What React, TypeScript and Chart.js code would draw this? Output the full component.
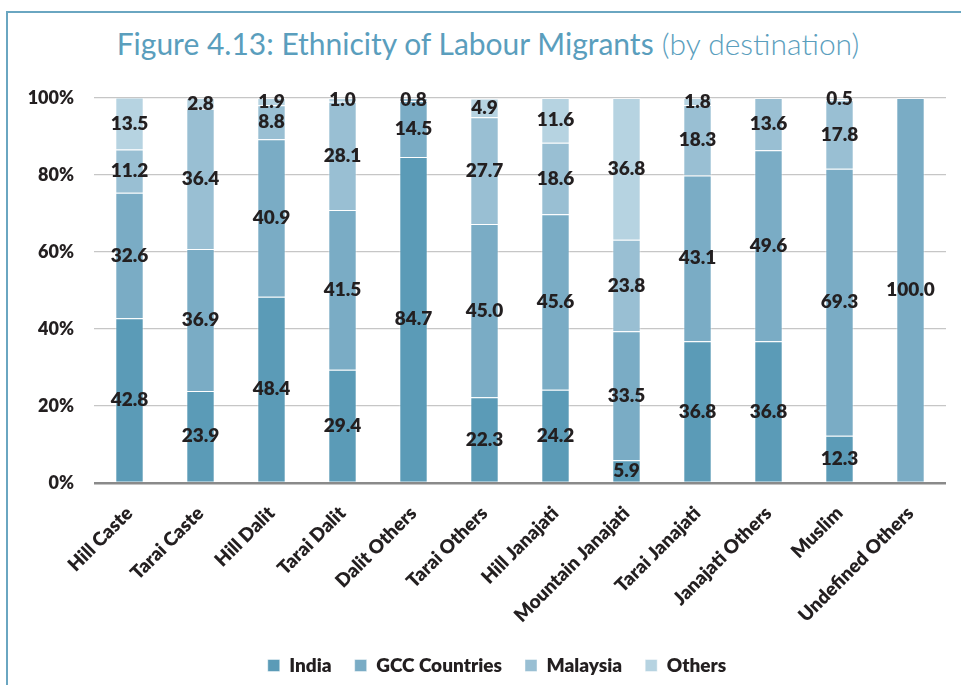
import React, { useEffect, useRef } from "react";
import { Chart, registerables } from "chart.js";

Chart.register(...registerables);

const categories = [
  "Hill Caste",
  "Tarai Caste",
  "Hill Dalit",
  "Tarai Dalit",
  "Dalit Others",
  "Tarai Others",
  "Hill Janajati",
  "Mountain Janajati",
  "Tarai Janajati",
  "Janajati Others",
  "Muslim",
  "Undefined Others",
];
const india = [42.8, 23.9, 48.4, 29.4, 84.7, 22.3, 24.2, 5.9, 36.8, 36.8, 12.3, 0];
const gcc = [32.6, 36.9, 40.9, 41.5, 14.5, 45.0, 45.6, 33.5, 43.1, 49.6, 69.3, 100.0];
const malaysia = [11.2, 36.4, 8.8, 28.1, 0.8, 27.7, 18.6, 23.8, 18.3, 13.6, 17.8, 0];
const others = [13.5, 2.8, 1.9, 1.0, 0, 4.9, 11.6, 36.8, 1.8, 0, 0.5, 0];
const seriesNames = ["India", "GCC Countries", "Malaysia", "Others"];
const seriesColors = ["#5b9bb7", "#7aacc5", "#99bfd3", "#b6d3e1"];

const FONT = "Lato, 'Open Sans', sans-serif";

const segLabels = {
  id: "segLabels",
  afterDatasetsDraw(chart: any) {
    const ctx = chart.ctx;
    ctx.save();
    ctx.font = `800 19px ${FONT}`;
    ctx.fillStyle = "#231f20";
    ctx.textAlign = "center";
    ctx.textBaseline = "middle";
    chart.data.datasets.forEach((ds: any, i: number) => {
      const meta = chart.getDatasetMeta(i);
      meta.data.forEach((el: any, j: number) => {
        const v = ds.data[j];
        if (!v) return;
        const { x, y, base } = el.getProps(["x", "y", "base"], true);
        ctx.fillText(v.toFixed(1), x, (y + base) / 2);
      });
    });
    ctx.restore();
  },
};

const legendFit = {
  id: "legendFit",
  beforeLayout(chart: any) {
    const lg = chart.legend;
    if (lg && !lg.__patched) {
      const orig = lg.fit;
      lg.fit = function () {
        orig.call(this);
        this.height = 52;
      };
      lg.__patched = true;
    }
  },
  afterLayout(chart: any) {
    const lg = chart.legend;
    if (lg) {
      lg.left = 48;
      lg.right = 946;
      lg.width = 898;
    }
  },
};

export default function App() {
  const ref = useRef<HTMLCanvasElement | null>(null);
  useEffect(() => {
    if (!ref.current) return;
    const data = [india, gcc, malaysia, others];
    const chart = new Chart(ref.current, {
      type: "bar",
      data: {
        labels: categories,
        datasets: seriesNames.map((name, i) => ({
          label: name,
          data: data[i],
          backgroundColor: seriesColors[i],
          borderColor: "rgba(255,255,255,0.45)",
          borderWidth: 1,
          categoryPercentage: 1,
          barPercentage: 0.4,
        })),
      },
      options: {
        responsive: false,
        animation: false,
        devicePixelRatio: 1,
        layout: { padding: { left: 0, right: 15, top: 98, bottom: 0 } },
        scales: {
          x: {
            stacked: true,
            grid: { display: false },
            border: { display: false },
            afterFit: (s: any) => {
              s.height = 150;
            },
            ticks: {
              autoSkip: false,
              maxRotation: 45,
              minRotation: 45,
              padding: 11,
              color: "#231f20",
              font: { family: FONT, size: 19, weight: "800" },
            },
          },
          y: {
            stacked: true,
            min: 0,
            max: 100,
            border: { display: false },
            afterFit: (s: any) => {
              s.width = 94;
            },
            grid: {
              drawTicks: false,
              color: (c: any) => (c.tick && c.tick.value === 0 ? "#8a8a8a" : "#c6c6c6"),
              lineWidth: (c: any) => (c.tick && c.tick.value === 0 ? 2.5 : 1.3),
            },
            ticks: {
              stepSize: 20,
              padding: 20,
              color: "#231f20",
              font: { family: FONT, size: 18, weight: "800" },
              callback: (v: any) => v + "%",
            },
          },
        },
        plugins: {
          title: { display: false },
          tooltip: { enabled: false },
          legend: {
            position: "bottom",
            labels: {
              boxWidth: 12,
              boxHeight: 12,
              padding: 23,
              color: "#231f20",
              font: { family: FONT, size: 19, weight: "800" },
            },
          },
        },
      },
      plugins: [segLabels, legendFit],
    } as any);
    return () => chart.destroy();
  }, []);

  return (
    <div
      style={{
        position: "absolute",
        left: 0,
        top: 0,
        width: 961,
        height: 685,
        overflow: "hidden",
        background: "#fff",
      }}
    >
      <div
        style={{
          position: "absolute",
          left: 6,
          top: 11,
          width: 2000,
          height: 2000,
          borderLeft: "2px solid #6aa6c1",
          borderTop: "2px solid #6aa6c1",
        }}
      />
      <div
        style={{
          position: "absolute",
          left: 0,
          top: 28,
          width: 976,
          textAlign: "center",
          fontFamily: FONT,
          fontSize: 30,
          lineHeight: "30px",
          color: "#5a9ebd",
          whiteSpace: "nowrap",
        }}
      >
        <span>Figure 4.13: Ethnicity of Labour Migrants</span>
        <span style={{ fontWeight: 300 }}> (by destination)</span>
      </div>
      <canvas
        ref={ref}
        width={961}
        height={685}
        style={{ position: "absolute", left: 0, top: 0, width: 961, height: 685 }}
      />
    </div>
  );
}
